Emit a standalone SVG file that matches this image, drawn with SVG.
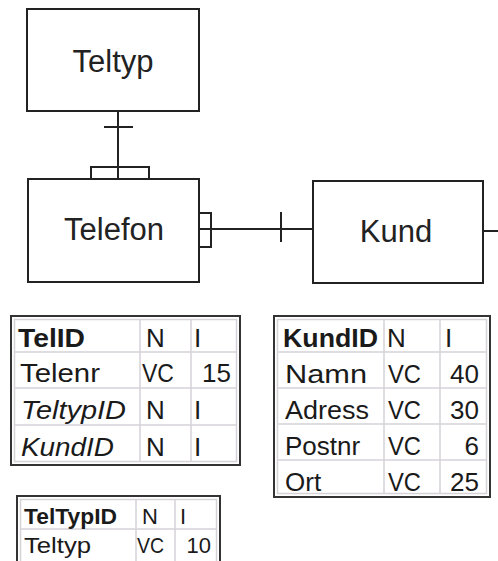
<svg xmlns="http://www.w3.org/2000/svg" width="498" height="561" viewBox="0 0 498 561">
<style>
.ent{fill:#fff;stroke:#222;stroke-width:2}
.lbl{font-family:"Liberation Sans",Arial,sans-serif;font-size:31px;fill:#222;text-anchor:middle}
.con{fill:none;stroke:#222;stroke-width:2}
.outer{fill:#fff;stroke:#333;stroke-width:2}
.grid{fill:none;stroke:#d6d2d8;stroke-width:1.5}
.t{font-family:"Liberation Sans",Arial,sans-serif;font-size:26px;fill:#1a1a1a}
.s{font-family:"Liberation Sans",Arial,sans-serif;font-size:22px;fill:#1a1a1a}
.b{font-weight:bold}
.i{font-style:italic}
.r{text-anchor:end}
</style>
<rect width="498" height="561" fill="#fff"/>
<g id="connectors">
  <line class="con" x1="118" y1="111" x2="118" y2="179"/>
  <line class="con" x1="104" y1="127" x2="133" y2="127"/>
  <rect class="con" x="91" y="167" width="58" height="12"/>
  <rect class="con" x="199" y="213" width="12" height="34"/>
  <line class="con" x1="199" y1="229" x2="313" y2="229"/>
  <line class="con" x1="281" y1="212" x2="281" y2="242"/>
  <line class="con" x1="483" y1="231" x2="498" y2="231"/>
</g>
<g id="teltyp">
  <rect class="ent" x="27" y="9" width="172" height="102"/>
  <text class="lbl" x="113" y="72">Teltyp</text>
</g>
<g id="telefon">
  <rect class="ent" x="28" y="179" width="171" height="103"/>
  <text class="lbl" x="114" y="240">Telefon</text>
</g>
<g id="kund">
  <rect class="ent" x="313" y="181" width="170" height="102"/>
  <text class="lbl" x="396" y="242">Kund</text>
</g>
<g id="table-telefon">
  <rect class="outer" x="11" y="316" width="229" height="149"/>
  <rect class="grid" x="14.5" y="319.5" width="222" height="142"/>
  <line class="grid" x1="14" y1="352" x2="237" y2="352"/>
  <line class="grid" x1="14" y1="388" x2="237" y2="388"/>
  <line class="grid" x1="14" y1="425" x2="237" y2="425"/>
  <line class="grid" x1="140" y1="319" x2="140" y2="462"/>
  <line class="grid" x1="191" y1="319" x2="191" y2="462"/>
  <text class="t b" x="18" y="347" textLength="67" lengthAdjust="spacingAndGlyphs">TelID</text>
  <text class="t" x="146" y="347">N</text>
  <text class="t" x="194" y="347">I</text>
  <text class="t" x="20" y="382" textLength="80" lengthAdjust="spacingAndGlyphs">Telenr</text>
  <text class="t" x="142" y="382" textLength="32" lengthAdjust="spacingAndGlyphs">VC</text>
  <text class="t r" x="231" y="382">15</text>
  <text class="t i" x="21" y="419" textLength="105" lengthAdjust="spacingAndGlyphs">TeltypID</text>
  <text class="t" x="146" y="419">N</text>
  <text class="t" x="194" y="419">I</text>
  <text class="t i" x="21" y="456" textLength="93" lengthAdjust="spacingAndGlyphs">KundID</text>
  <text class="t" x="146" y="456">N</text>
  <text class="t" x="194" y="456">I</text>
</g>
<g id="table-kund">
  <rect class="outer" x="274" y="316" width="216" height="181"/>
  <rect class="grid" x="277.5" y="319.5" width="209" height="174"/>
  <line class="grid" x1="277" y1="352" x2="487" y2="352"/>
  <line class="grid" x1="277" y1="388" x2="487" y2="388"/>
  <line class="grid" x1="277" y1="424" x2="487" y2="424"/>
  <line class="grid" x1="277" y1="460" x2="487" y2="460"/>
  <line class="grid" x1="384" y1="319" x2="384" y2="494"/>
  <line class="grid" x1="440" y1="319" x2="440" y2="494"/>
  <text class="t b" x="283" y="347" textLength="95" lengthAdjust="spacingAndGlyphs">KundID</text>
  <text class="t" x="387" y="347">N</text>
  <text class="t" x="445" y="347">I</text>
  <text class="t" x="285" y="383" textLength="82" lengthAdjust="spacingAndGlyphs">Namn</text>
  <text class="t" x="388" y="383" textLength="33" lengthAdjust="spacingAndGlyphs">VC</text>
  <text class="t r" x="479" y="383">40</text>
  <text class="t" x="285" y="419" textLength="84" lengthAdjust="spacingAndGlyphs">Adress</text>
  <text class="t" x="388" y="419" textLength="33" lengthAdjust="spacingAndGlyphs">VC</text>
  <text class="t r" x="479" y="419">30</text>
  <text class="t" x="285" y="455">Postnr</text>
  <text class="t" x="388" y="455" textLength="33" lengthAdjust="spacingAndGlyphs">VC</text>
  <text class="t r" x="479" y="455">6</text>
  <text class="t" x="285" y="491">Ort</text>
  <text class="t" x="388" y="491" textLength="33" lengthAdjust="spacingAndGlyphs">VC</text>
  <text class="t r" x="479" y="491">25</text>
</g>
<g id="table-teltyp">
  <rect class="outer" x="17" y="496" width="203" height="70"/>
  <rect class="grid" x="20.5" y="499.5" width="196" height="66"/>
  <line class="grid" x1="20" y1="529" x2="217" y2="529"/>
  <line class="grid" x1="136" y1="499" x2="136" y2="566"/>
  <line class="grid" x1="175" y1="499" x2="175" y2="566"/>
  <text class="s b" x="24" y="524" textLength="93" lengthAdjust="spacingAndGlyphs">TelTypID</text>
  <text class="s" x="142" y="524">N</text>
  <text class="s" x="180" y="524">I</text>
  <text class="s" x="24" y="553" textLength="67" lengthAdjust="spacingAndGlyphs">Teltyp</text>
  <text class="s" x="137" y="553" textLength="27" lengthAdjust="spacingAndGlyphs">VC</text>
  <text class="s r" x="211" y="553">10</text>
</g>
</svg>
